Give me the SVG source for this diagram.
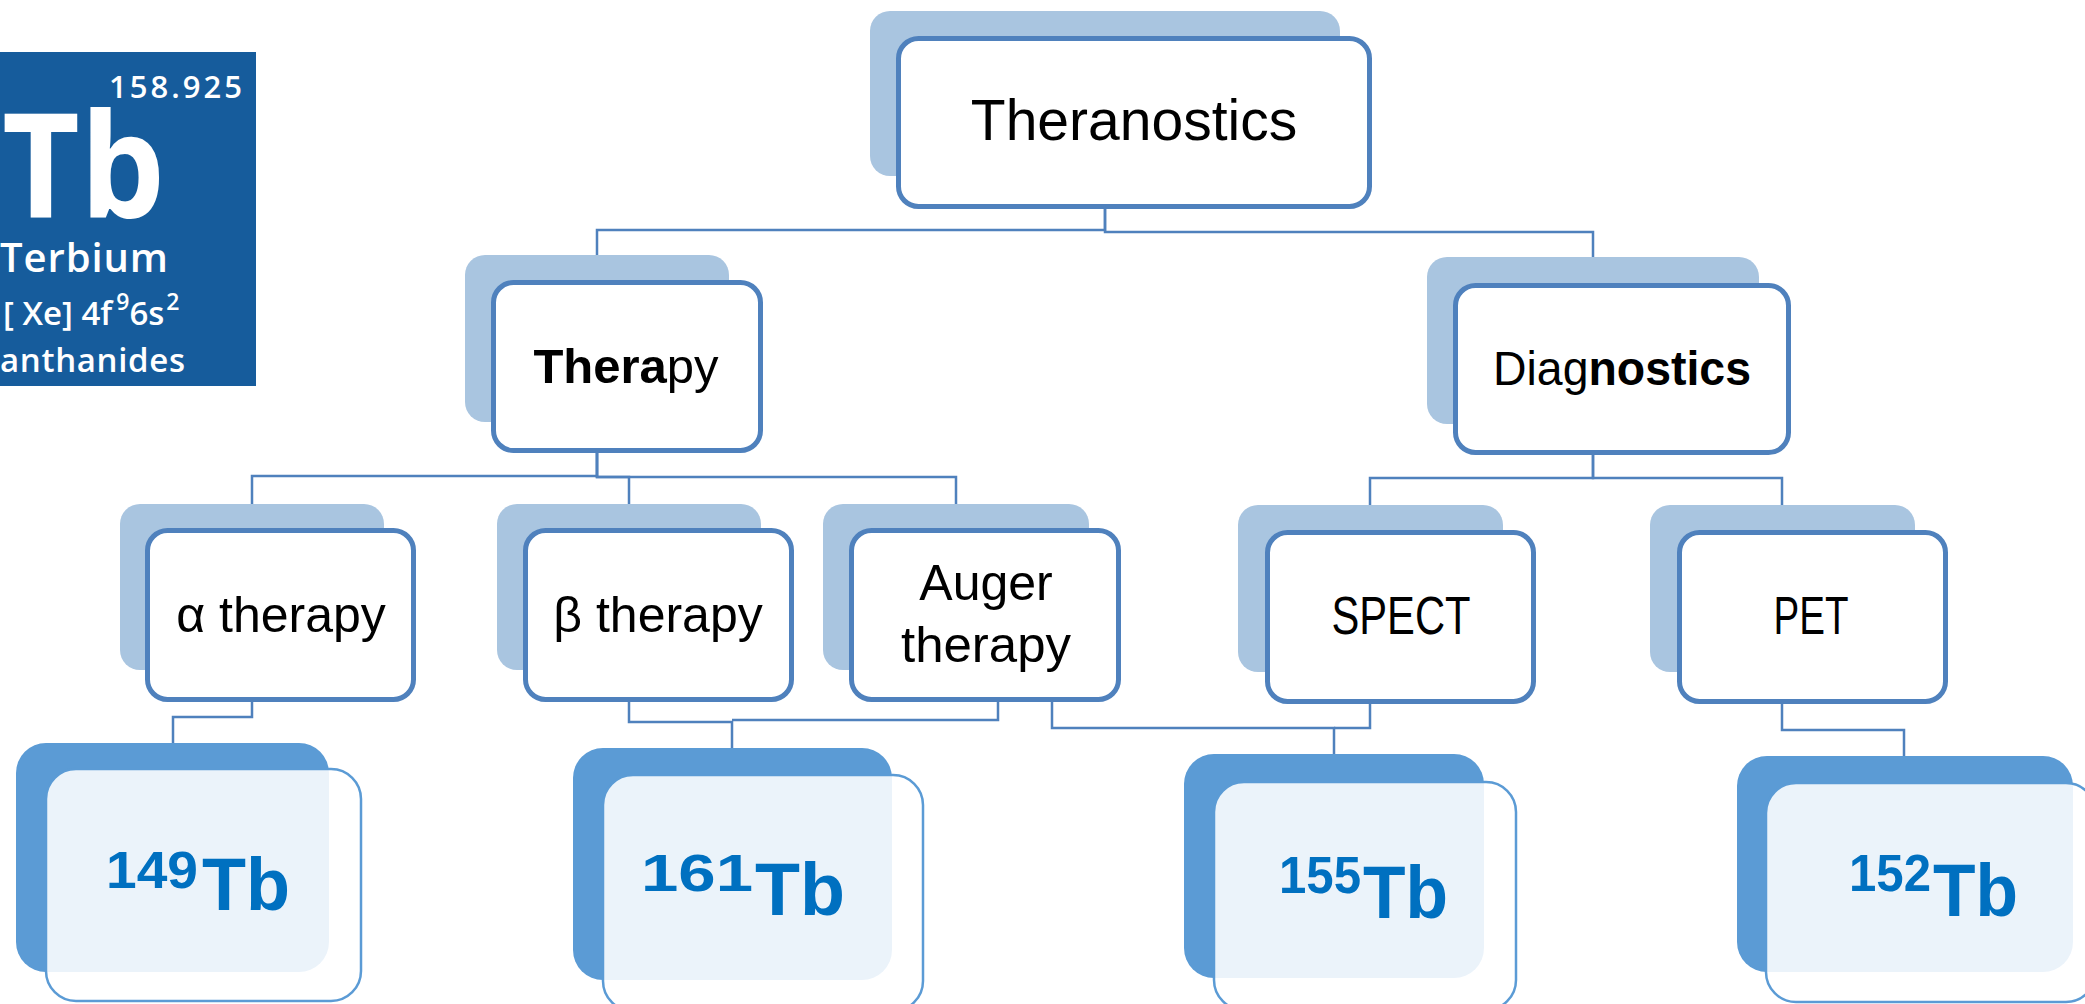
<svg xmlns="http://www.w3.org/2000/svg" width="2085" height="1004" viewBox="0 0 2085 1004">
  <style>
    .back { fill: #A9C5E0; }
    .front { fill: #FFFFFF; stroke: #4F81BD; stroke-width: 5; }
    .iso-back { fill: #5B9BD5; }
    .iso-front { fill: #FFFFFF; fill-opacity: 0.88; stroke: #5B9BD5; stroke-width: 2.5; }
    .lbl { font-family: "Liberation Sans", Arial, sans-serif; fill: #000000; text-anchor: middle; }
    .iso { font-family: "Liberation Sans", Arial, sans-serif; font-weight: bold; fill: #0070C0; }
    .tile { font-family: "Open Sans", "Liberation Sans", sans-serif; fill: #FFFFFF; }
    .conn { fill: none; stroke: #4F81BD; stroke-width: 2.5; }
  </style>

  <rect width="2085" height="1004" fill="#FFFFFF"/>

  <!-- periodic table tile -->
  <g id="element-tile">
    <rect x="0" y="52" width="256" height="334" fill="#165C9C"/>
    <text class="tile" x="109" y="98" font-size="31" font-weight="600" textLength="133" lengthAdjust="spacing">158.925</text>
    <text class="tile" x="2" y="218" font-size="146" font-weight="700" textLength="163" lengthAdjust="spacingAndGlyphs">Tb</text>
    <text class="tile" x="0" y="272" font-size="40" font-weight="600" textLength="168" lengthAdjust="spacing">Terbium</text>
    <text class="tile" x="3" y="325" font-size="33" font-weight="600">[ Xe] 4f<tspan font-size="23" dx="4" dy="-15">9</tspan><tspan dy="15">6s</tspan><tspan font-size="23" dx="2" dy="-15">2</tspan></text>
    <text class="tile" x="0" y="372" font-size="33" font-weight="600" textLength="185" lengthAdjust="spacing">anthanides</text>
  </g>

  <!-- connectors -->
  <g id="connectors" class="conn">
    <path d="M1105,176 V230 H597 V255"/>
    <path d="M1105,176 V232 H1593 V257"/>
    <path d="M597,422 V476 H252 V504"/>
    <path d="M597,422 V477 H629 V504"/>
    <path d="M597,422 V477 H956 V504"/>
    <path d="M1593,424 V478 H1370 V505"/>
    <path d="M1593,424 V478 H1782 V505"/>
    <path d="M252,670 V717 H173 V743"/>
    <path d="M629,670 V722 H732 V748"/>
    <path d="M998,670 V720 H732"/>
    <path d="M1052,670 V728 H1334 V754"/>
    <path d="M1370,672 V728 H1334"/>
    <path d="M1782,672 V730 H1904 V756"/>
  </g>

  <g id="theranostics">
    <rect class="back" x="870" y="11" width="470" height="165" rx="20"/>
    <rect class="front" x="898.5" y="38.5" width="471" height="168" rx="20"/>
    <text class="lbl" x="1134" y="140" font-size="57">Theranostics</text>
  </g>

  <g id="therapy">
    <rect class="back" x="465" y="255" width="264" height="167" rx="20"/>
    <rect class="front" x="493.5" y="282.5" width="267" height="168" rx="20"/>
    <text class="lbl" x="626" y="383" font-size="49"><tspan font-weight="bold">Thera</tspan>py</text>
  </g>

  <g id="diagnostics">
    <rect class="back" x="1427" y="257" width="332" height="167" rx="20"/>
    <rect class="front" x="1455.5" y="285.5" width="333" height="167" rx="20"/>
    <text class="lbl" x="1622" y="385" font-size="49" textLength="258" lengthAdjust="spacingAndGlyphs">Diag<tspan font-weight="bold">nostics</tspan></text>
  </g>

  <g id="alpha-therapy">
    <rect class="back" x="120" y="504" width="264" height="166" rx="20"/>
    <rect class="front" x="147.5" y="530.5" width="266" height="169" rx="20"/>
    <text class="lbl" x="281" y="632" font-size="50">α therapy</text>
  </g>

  <g id="beta-therapy">
    <rect class="back" x="497" y="504" width="264" height="166" rx="20"/>
    <rect class="front" x="525.5" y="530.5" width="266" height="169" rx="20"/>
    <text class="lbl" x="658" y="632" font-size="50">β therapy</text>
  </g>

  <g id="auger-therapy">
    <rect class="back" x="823" y="504" width="266" height="166" rx="20"/>
    <rect class="front" x="851.5" y="530.5" width="267" height="169" rx="20"/>
    <text class="lbl" x="986" y="600" font-size="50">Auger</text>
    <text class="lbl" x="986" y="662" font-size="50" textLength="170" lengthAdjust="spacingAndGlyphs">therapy</text>
  </g>

  <g id="spect">
    <rect class="back" x="1238" y="505" width="265" height="167" rx="20"/>
    <rect class="front" x="1267.5" y="532.5" width="266" height="169" rx="20"/>
    <text class="lbl" x="1401" y="634" font-size="54" textLength="139" lengthAdjust="spacingAndGlyphs">SPECT</text>
  </g>

  <g id="pet">
    <rect class="back" x="1650" y="505" width="265" height="167" rx="20"/>
    <rect class="front" x="1679.5" y="532.5" width="266" height="169" rx="20"/>
    <text class="lbl" x="1811" y="634" font-size="54" textLength="75" lengthAdjust="spacingAndGlyphs">PET</text>
  </g>

  <g id="tb149">
    <rect class="iso-back" x="16" y="743" width="313" height="229" rx="30"/>
    <rect class="iso-front" x="46" y="769" width="315" height="232" rx="30"/>
    <text class="iso"><tspan x="106" y="888" font-size="52" textLength="92" lengthAdjust="spacingAndGlyphs">149</tspan><tspan x="202" y="910" font-size="74" textLength="88" lengthAdjust="spacingAndGlyphs">Tb</tspan></text>
  </g>

  <g id="tb161">
    <rect class="iso-back" x="573" y="748" width="319" height="232" rx="30"/>
    <rect class="iso-front" x="603" y="775" width="320" height="236" rx="30"/>
    <text class="iso"><tspan x="641" y="891" font-size="52" textLength="112" lengthAdjust="spacingAndGlyphs">161</tspan><tspan x="755" y="915" font-size="74" textLength="90" lengthAdjust="spacingAndGlyphs">Tb</tspan></text>
  </g>

  <g id="tb155">
    <rect class="iso-back" x="1184" y="754" width="300" height="224" rx="30"/>
    <rect class="iso-front" x="1214" y="782" width="302" height="228" rx="30"/>
    <text class="iso"><tspan x="1279" y="893" font-size="52" textLength="82" lengthAdjust="spacingAndGlyphs">155</tspan><tspan x="1363" y="918" font-size="74" textLength="85" lengthAdjust="spacingAndGlyphs">Tb</tspan></text>
  </g>

  <g id="tb152">
    <rect class="iso-back" x="1737" y="756" width="336" height="216" rx="30"/>
    <rect class="iso-front" x="1766" y="783" width="330" height="219" rx="30"/>
    <text class="iso"><tspan x="1849" y="891" font-size="52" textLength="82" lengthAdjust="spacingAndGlyphs">152</tspan><tspan x="1933" y="916" font-size="74" textLength="85" lengthAdjust="spacingAndGlyphs">Tb</tspan></text>
  </g>
</svg>
